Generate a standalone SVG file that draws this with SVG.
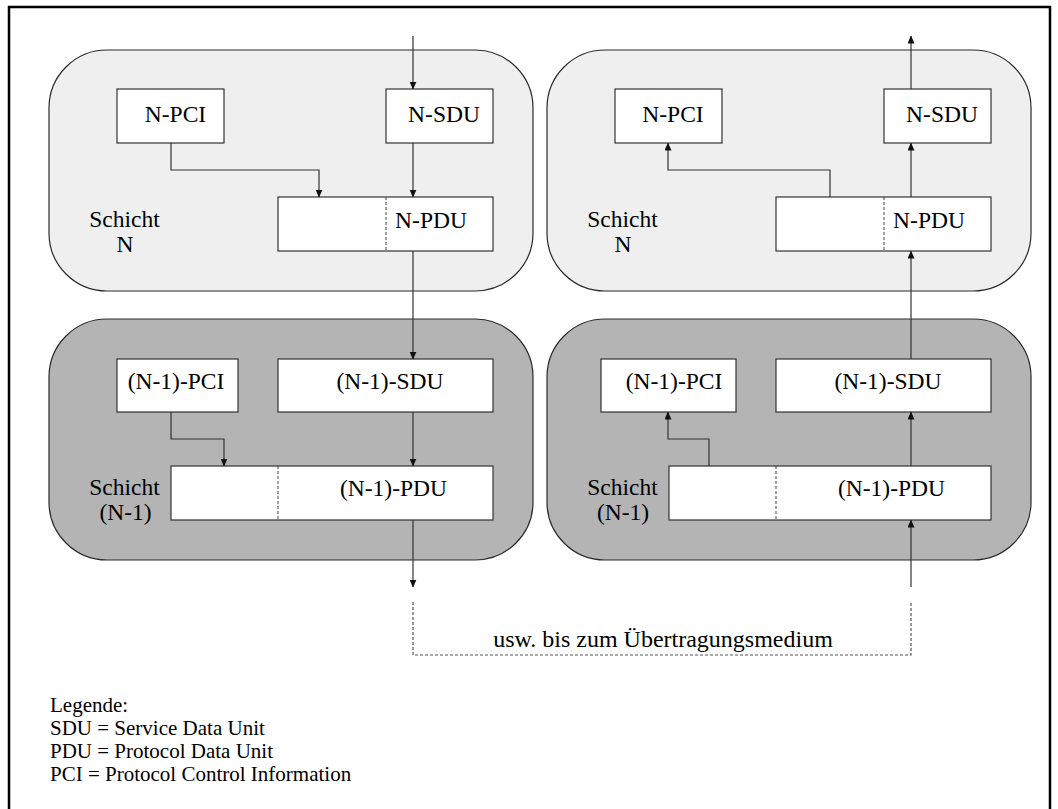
<svg xmlns="http://www.w3.org/2000/svg" width="1058" height="809" viewBox="0 0 1058 809">
  <style>
    .frame { fill: none; stroke: #000; stroke-width: 2.5; }
    .layerN { fill: #efefef; stroke: #2a2a2a; stroke-width: 1.2; }
    .layerN1 { fill: #b4b4b4; stroke: #2a2a2a; stroke-width: 1.2; }
    .box { fill: #fff; stroke: #333; stroke-width: 1.2; }
    .split { fill: none; stroke: #444; stroke-width: 1; stroke-dasharray: 3 2; }
    .lbl { font-family: "Liberation Serif", "Times New Roman", serif; font-size: 23.5px; fill: #000; text-anchor: middle; }
    .legend { font-family: "Liberation Serif", "Times New Roman", serif; font-size: 21px; fill: #000; }
    .flow { fill: none; stroke: #333; stroke-width: 1.2; marker-end: url(#head); }
    .medium { fill: none; stroke: #555; stroke-width: 1.2; stroke-dasharray: 3 2; }
  </style>
  <defs>
    <marker id="head" markerUnits="userSpaceOnUse" markerWidth="8" markerHeight="8" refX="7.5" refY="3.5" orient="auto">
      <path d="M0,0 L8,3.5 L0,7 z" fill="#111"/>
    </marker>
  </defs>

  <rect width="1058" height="809" fill="#fff"/>

  <!-- page frame -->
  <path class="frame" d="M9,809 V7 H1050 V809"/>

  <!-- sender, layer N -->
  <g id="send-layer-n">
    <rect class="layerN" x="49" y="50" width="484" height="241" rx="58" ry="58"/>
    <text class="lbl" x="124.5" y="227">Schicht</text>
    <text class="lbl" x="125" y="252">N</text>
  </g>
  <g id="send-n-pci">
    <rect class="box" x="117" y="89" width="107" height="54"/>
    <text class="lbl" x="175.5" y="122">N-PCI</text>
  </g>
  <g id="send-n-sdu">
    <rect class="box" x="386" y="89" width="107" height="54"/>
    <text class="lbl" x="444" y="122">N-SDU</text>
  </g>
  <g id="send-n-pdu">
    <rect class="box" x="278" y="197" width="215" height="54"/>
    <line class="split" x1="386" y1="197" x2="386" y2="251"/>
    <text class="lbl" x="431" y="228">N-PDU</text>
  </g>

  <!-- sender, layer N-1 -->
  <g id="send-layer-n1">
    <rect class="layerN1" x="49" y="319" width="484" height="241" rx="58" ry="58"/>
    <text class="lbl" x="124.5" y="495">Schicht</text>
    <text class="lbl" x="125.5" y="520">(N-1)</text>
  </g>
  <g id="send-n1-pci">
    <rect class="box" x="117" y="359" width="121" height="53"/>
    <text class="lbl" x="176" y="389">(N-1)-PCI</text>
  </g>
  <g id="send-n1-sdu">
    <rect class="box" x="278" y="359" width="215" height="53"/>
    <text class="lbl" x="390" y="389">(N-1)-SDU</text>
  </g>
  <g id="send-n1-pdu">
    <rect class="box" x="171" y="466" width="322" height="54"/>
    <line class="split" x1="278" y1="466" x2="278" y2="520"/>
    <text class="lbl" x="393.5" y="496">(N-1)-PDU</text>
  </g>

  <!-- receiver, layer N -->
  <g id="recv-layer-n">
    <rect class="layerN" x="547" y="50" width="484" height="241" rx="58" ry="58"/>
    <text class="lbl" x="622.5" y="227">Schicht</text>
    <text class="lbl" x="623" y="252">N</text>
  </g>
  <g id="recv-n-pci">
    <rect class="box" x="615" y="89" width="107" height="54"/>
    <text class="lbl" x="673" y="122">N-PCI</text>
  </g>
  <g id="recv-n-sdu">
    <rect class="box" x="884" y="89" width="107" height="54"/>
    <text class="lbl" x="942" y="122">N-SDU</text>
  </g>
  <g id="recv-n-pdu">
    <rect class="box" x="776" y="197" width="215" height="54"/>
    <line class="split" x1="884" y1="197" x2="884" y2="251"/>
    <text class="lbl" x="929" y="228">N-PDU</text>
  </g>

  <!-- receiver, layer N-1 -->
  <g id="recv-layer-n1">
    <rect class="layerN1" x="547" y="319" width="484" height="241" rx="58" ry="58"/>
    <text class="lbl" x="622.5" y="495">Schicht</text>
    <text class="lbl" x="623" y="520">(N-1)</text>
  </g>
  <g id="recv-n1-pci">
    <rect class="box" x="601" y="359" width="135" height="53"/>
    <text class="lbl" x="674" y="389">(N-1)-PCI</text>
  </g>
  <g id="recv-n1-sdu">
    <rect class="box" x="776" y="359" width="215" height="53"/>
    <text class="lbl" x="888" y="389">(N-1)-SDU</text>
  </g>
  <g id="recv-n1-pdu">
    <rect class="box" x="669" y="466" width="322" height="54"/>
    <line class="split" x1="776" y1="466" x2="776" y2="520"/>
    <text class="lbl" x="891.5" y="496">(N-1)-PDU</text>
  </g>

  <!-- data flow -->
  <g id="connectors">
    <!-- sending side, downwards -->
    <path class="flow" d="M413,36 V89"/>
    <path class="flow" d="M413,143 V197"/>
    <path class="flow" d="M171,143 V170 H319 V197"/>
    <path class="flow" d="M413,251 V359"/>
    <path class="flow" d="M413,412 V466"/>
    <path class="flow" d="M171,412 V439 H224 V466"/>
    <path class="flow" d="M413,520 V587"/>
    <!-- receiving side, upwards -->
    <path class="flow" d="M911,587 V520"/>
    <path class="flow" d="M911,466 V412"/>
    <path class="flow" d="M709,466 V439 H668 V412"/>
    <path class="flow" d="M911,359 V251"/>
    <path class="flow" d="M911,197 V143"/>
    <path class="flow" d="M830,197 V170 H668 V143"/>
    <path class="flow" d="M911,89 V36"/>
    <!-- onward to the transmission medium -->
    <path class="medium" d="M413,602 V655 H911 V602"/>
  </g>
  <text class="lbl" x="663" y="647" style="font-size:24px">usw. bis zum Übertragungsmedium</text>

  <!-- legend -->
  <g id="legend" class="legend">
    <text x="50" y="712">Legende:</text>
    <text x="50" y="735">SDU = Service Data Unit</text>
    <text x="50" y="758">PDU = Protocol Data Unit</text>
    <text x="50" y="781">PCI = Protocol Control Information</text>
  </g>
</svg>
